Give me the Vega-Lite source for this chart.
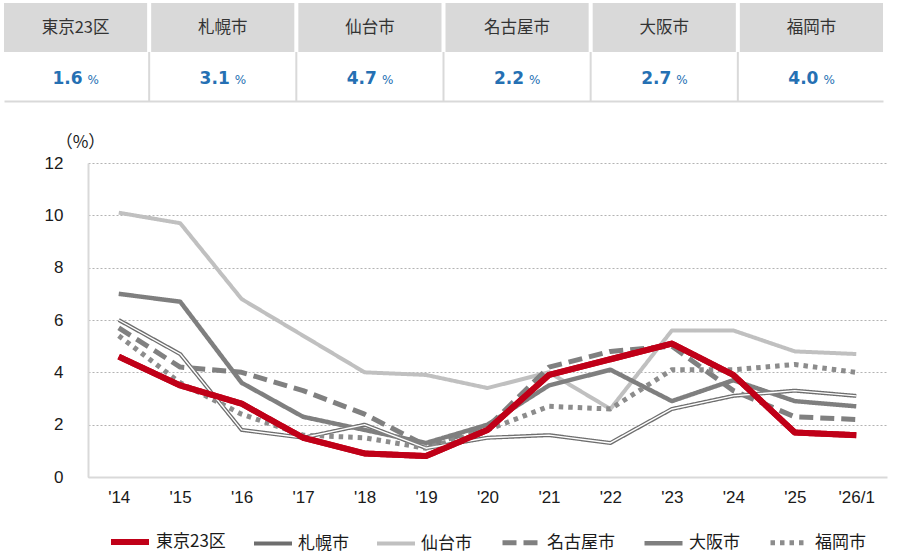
{
  "$schema": "https://vega.github.io/schema/vega-lite/v6.json",
  "background": "white",
  "padding": {"left": 4, "top": 3, "right": 5, "bottom": 5},
  "config": {"view": {"stroke": null}, "font": "Liberation Sans"},
  "datasets": {
    "rates": [
      {"year": "'14", "city": "札幌市", "value": 6.0},
      {"year": "'15", "city": "札幌市", "value": 4.7},
      {"year": "'16", "city": "札幌市", "value": 1.8},
      {"year": "'17", "city": "札幌市", "value": 1.5},
      {"year": "'18", "city": "札幌市", "value": 2.0},
      {"year": "'19", "city": "札幌市", "value": 1.1},
      {"year": "'20", "city": "札幌市", "value": 1.5},
      {"year": "'21", "city": "札幌市", "value": 1.6},
      {"year": "'22", "city": "札幌市", "value": 1.3},
      {"year": "'23", "city": "札幌市", "value": 2.6},
      {"year": "'24", "city": "札幌市", "value": 3.1},
      {"year": "'25", "city": "札幌市", "value": 3.3},
      {"year": "'26/1", "city": "札幌市", "value": 3.1},
      {"year": "'14", "city": "仙台市", "value": 10.1},
      {"year": "'15", "city": "仙台市", "value": 9.7},
      {"year": "'16", "city": "仙台市", "value": 6.8},
      {"year": "'17", "city": "仙台市", "value": 5.4},
      {"year": "'18", "city": "仙台市", "value": 4.0},
      {"year": "'19", "city": "仙台市", "value": 3.9},
      {"year": "'20", "city": "仙台市", "value": 3.4},
      {"year": "'21", "city": "仙台市", "value": 4.0},
      {"year": "'22", "city": "仙台市", "value": 2.6},
      {"year": "'23", "city": "仙台市", "value": 5.6},
      {"year": "'24", "city": "仙台市", "value": 5.6},
      {"year": "'25", "city": "仙台市", "value": 4.8},
      {"year": "'26/1", "city": "仙台市", "value": 4.7},
      {"year": "'14", "city": "名古屋市", "value": 5.7},
      {"year": "'15", "city": "名古屋市", "value": 4.2},
      {"year": "'16", "city": "名古屋市", "value": 4.0},
      {"year": "'17", "city": "名古屋市", "value": 3.3},
      {"year": "'18", "city": "名古屋市", "value": 2.4},
      {"year": "'19", "city": "名古屋市", "value": 1.2},
      {"year": "'20", "city": "名古屋市", "value": 1.9},
      {"year": "'21", "city": "名古屋市", "value": 4.2},
      {"year": "'22", "city": "名古屋市", "value": 4.8},
      {"year": "'23", "city": "名古屋市", "value": 5.0},
      {"year": "'24", "city": "名古屋市", "value": 3.3},
      {"year": "'25", "city": "名古屋市", "value": 2.3},
      {"year": "'26/1", "city": "名古屋市", "value": 2.2},
      {"year": "'14", "city": "大阪市", "value": 7.0},
      {"year": "'15", "city": "大阪市", "value": 6.7},
      {"year": "'16", "city": "大阪市", "value": 3.6},
      {"year": "'17", "city": "大阪市", "value": 2.3},
      {"year": "'18", "city": "大阪市", "value": 1.8},
      {"year": "'19", "city": "大阪市", "value": 1.3},
      {"year": "'20", "city": "大阪市", "value": 2.0},
      {"year": "'21", "city": "大阪市", "value": 3.5},
      {"year": "'22", "city": "大阪市", "value": 4.1},
      {"year": "'23", "city": "大阪市", "value": 2.9},
      {"year": "'24", "city": "大阪市", "value": 3.7},
      {"year": "'25", "city": "大阪市", "value": 2.9},
      {"year": "'26/1", "city": "大阪市", "value": 2.7},
      {"year": "'14", "city": "福岡市", "value": 5.4},
      {"year": "'15", "city": "福岡市", "value": 3.6},
      {"year": "'16", "city": "福岡市", "value": 2.4},
      {"year": "'17", "city": "福岡市", "value": 1.6},
      {"year": "'18", "city": "福岡市", "value": 1.5},
      {"year": "'19", "city": "福岡市", "value": 1.1},
      {"year": "'20", "city": "福岡市", "value": 1.8},
      {"year": "'21", "city": "福岡市", "value": 2.7},
      {"year": "'22", "city": "福岡市", "value": 2.6},
      {"year": "'23", "city": "福岡市", "value": 4.1},
      {"year": "'24", "city": "福岡市", "value": 4.1},
      {"year": "'25", "city": "福岡市", "value": 4.3},
      {"year": "'26/1", "city": "福岡市", "value": 4.0},
      {"year": "'14", "city": "東京23区", "value": 4.6},
      {"year": "'15", "city": "東京23区", "value": 3.5},
      {"year": "'16", "city": "東京23区", "value": 2.8},
      {"year": "'17", "city": "東京23区", "value": 1.5},
      {"year": "'18", "city": "東京23区", "value": 0.9},
      {"year": "'19", "city": "東京23区", "value": 0.8},
      {"year": "'20", "city": "東京23区", "value": 1.8},
      {"year": "'21", "city": "東京23区", "value": 3.9},
      {"year": "'22", "city": "東京23区", "value": 4.5},
      {"year": "'23", "city": "東京23区", "value": 5.1},
      {"year": "'24", "city": "東京23区", "value": 3.9},
      {"year": "'25", "city": "東京23区", "value": 1.7},
      {"year": "'26/1", "city": "東京23区", "value": 1.6}
    ]
  },
  "concat": [
    {
      "width": 795,
      "height": 98,
      "data": {"name": "rates"},
      "transform": [{"filter": "datum.year === \"'26/1\""}],
      "encoding": {
        "x": {
          "field": "city", "type": "nominal",
          "scale": {"domain": ["東京23区", "札幌市", "仙台市", "名古屋市", "大阪市", "福岡市"], "range": [-84, 795], "paddingInner": 0.0273, "paddingOuter": 0},
          "axis": {"labels": false, "ticks": false, "domain": true, "domainColor": "#d9d9d9", "domainWidth": 2, "title": null, "grid": false}
        }
      },
      "layer": [
        {
          "transform": [{"filter": "datum.city !== '福岡市'"}],
          "mark": {"type": "rule", "color": "#d9d9d9", "strokeWidth": 2},
          "encoding": {
            "x": {"field": "city", "type": "nominal", "bandPosition": 1.014},
            "y": {"datum": "value", "type": "nominal", "bandPosition": 0, "scale": {"domain": ["name", "value"], "paddingInner": 0, "paddingOuter": 0}, "axis": null},
            "y2": {"datum": "value", "bandPosition": 1}
          }
        },
        {
          "mark": {"type": "rect", "fill": "#d9d9d9"},
          "encoding": {
            "y": {"datum": "name", "type": "nominal", "scale": {"domain": ["name", "value"], "paddingInner": 0, "paddingOuter": 0}, "axis": null}
          }
        },
        {
          "mark": {"type": "text", "font": "Noto Sans CJK JP", "fontSize": 16.5, "color": "#333333"},
          "encoding": {
            "y": {"datum": "name", "type": "nominal", "axis": null},
            "text": {"field": "city", "type": "nominal"}
          }
        },
        {
          "mark": {"type": "text", "font": "DejaVu Sans", "fontWeight": "bold", "fontSize": 17, "color": "#2570b3", "align": "right", "dx": 7, "dy": 2},
          "encoding": {
            "y": {"datum": "value", "type": "nominal", "axis": null},
            "text": {"field": "value", "type": "quantitative", "format": ".1f"}
          }
        },
        {
          "mark": {"type": "text", "font": "DejaVu Sans", "fontSize": 12, "color": "#2570b3", "align": "left", "dx": 12, "dy": 3},
          "encoding": {
            "y": {"datum": "value", "type": "nominal", "axis": null},
            "text": {"value": "%"}
          }
        }
      ]
    },
    {
      "width": 799,
      "height": 314,
      "data": {"name": "rates"},
      "encoding": {
        "x": {
          "field": "year", "type": "ordinal", "sort": null,
          "scale": {"type": "point", "padding": 0.5},
          "axis": {"title": null, "labelAngle": 0, "ticks": false, "domain": true, "domainColor": "#d9d9d9", "domainWidth": 2, "labelFontSize": 17, "labelPadding": 12, "labelColor": "#1a1a1a", "grid": false}
        },
        "y": {
          "field": "value", "type": "quantitative",
          "scale": {"domain": [0, 12]},
          "axis": {"values": [0, 2, 4, 6, 8, 10, 12], "grid": true, "gridColor": "#b3b3b3", "gridDash": [2, 2], "gridWidth": 1, "domain": true, "domainColor": "#d9d9d9", "domainWidth": 2, "ticks": false, "labelFontSize": 17, "labelColor": "#1a1a1a", "labelPadding": 25, "minExtent": 84, "title": "（%）", "titleAngle": 0, "titleX": -8, "titleY": -21, "titleAlign": "center", "titleBaseline": "middle", "titleFontSize": 17, "titleFontWeight": "normal", "titleFont": "Noto Sans CJK JP", "titleColor": "#1a1a1a"}
        }
      },
      "layer": [
        {
          "mark": {"type": "line", "strokeCap": "butt", "strokeJoin": "round"},
          "encoding": {
            "color": {
              "field": "city", "type": "nominal",
              "scale": {"domain": ["東京23区", "札幌市", "仙台市", "名古屋市", "大阪市", "福岡市"], "range": ["#c00018", "#6e6e6e", "#c0c0c0", "#808080", "#7f7f7f", "#8c8c8c"]},
              "legend": {"title": null, "orient": "none", "legendX": 20, "legendY": 517, "direction": "horizontal", "gridAlign": "each", "symbolType": "stroke", "symbolSize": 1444, "labelFont": "Noto Sans CJK JP", "labelFontSize": 17, "labelColor": "#1a1a1a", "labelOffset": 4, "columnPadding": 20, "padding": 0}
            },
            "strokeDash": {
              "field": "city", "type": "nominal",
              "scale": {"domain": ["東京23区", "札幌市", "仙台市", "名古屋市", "大阪市", "福岡市"], "range": [[1, 0], [1, 0], [1, 0], [14, 7], [1, 0], [4.5, 5]]},
              "legend": {"title": null, "orient": "none", "legendX": 20, "legendY": 517, "direction": "horizontal", "gridAlign": "each", "symbolType": "stroke", "symbolSize": 1444, "labelFont": "Noto Sans CJK JP", "labelFontSize": 17, "labelColor": "#1a1a1a", "labelOffset": 4, "columnPadding": 20, "padding": 0}
            },
            "strokeWidth": {
              "field": "city", "type": "nominal",
              "scale": {"type": "ordinal", "domain": ["東京23区", "札幌市", "仙台市", "名古屋市", "大阪市", "福岡市"], "range": [6, 4, 4, 5, 4.5, 5]},
              "legend": {"title": null, "orient": "none", "legendX": 20, "legendY": 517, "direction": "horizontal", "gridAlign": "each", "symbolType": "stroke", "symbolSize": 1444, "labelFont": "Noto Sans CJK JP", "labelFontSize": 17, "labelColor": "#1a1a1a", "labelOffset": 4, "columnPadding": 20, "padding": 0}
            }
          }
        },
        {
          "transform": [{"filter": "datum.city === '札幌市'"}],
          "mark": {"type": "line", "color": "white", "strokeWidth": 1.4, "strokeJoin": "round"},
          "encoding": {}
        },
        {
          "transform": [{"filter": "datum.city === '東京23区'"}],
          "mark": {"type": "line", "color": "#c00018", "strokeWidth": 6, "strokeCap": "butt", "strokeJoin": "round"},
          "encoding": {}
        }
      ]
    }
  ],
  "columns": 1,
  "align": "none",
  "spacing": 31
}
